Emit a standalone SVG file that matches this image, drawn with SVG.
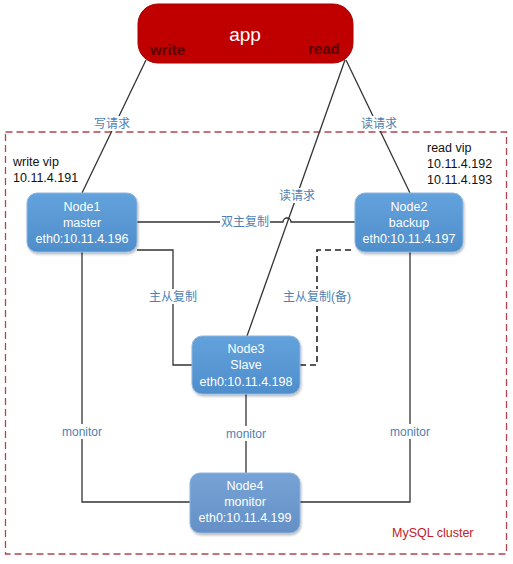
<svg xmlns="http://www.w3.org/2000/svg" width="513" height="564" viewBox="0 0 513 564">
<defs>
<linearGradient id="nodeGrad" x1="0" y1="0" x2="0" y2="1">
<stop offset="0" stop-color="#63a2dc"/>
<stop offset="1" stop-color="#4f8ecb"/>
</linearGradient>
<linearGradient id="node4Grad" x1="0" y1="0" x2="0" y2="1">
<stop offset="0" stop-color="#76a3d6"/>
<stop offset="1" stop-color="#6590c6"/>
</linearGradient>
<filter id="sh" x="-10%" y="-10%" width="125%" height="130%">
<feDropShadow dx="1" dy="2" stdDeviation="1.2" flood-color="#000" flood-opacity="0.25"/>
</filter>
</defs>
<style>
.node{fill:url(#nodeGrad);stroke:#8cb6e0;stroke-width:1;filter:url(#sh)}
.ntext{font-family:"Liberation Sans",Arial,sans-serif;font-size:12.5px;fill:#ffffff;text-anchor:middle}
.line{fill:none;stroke:#333333;stroke-width:1.3}
.dash{fill:none;stroke:#222222;stroke-width:1.6;stroke-dasharray:6,4}
.lbl{font-family:"Liberation Sans","Noto Sans CJK SC",sans-serif;font-size:12px;fill:#4f7fb2;text-anchor:middle}
.lblbg{fill:#ffffff}
.plain{font-family:"Liberation Sans",Arial,sans-serif;font-size:12.5px;fill:#111111}
</style>
<rect x="0" y="0" width="513" height="564" fill="#ffffff"/>
<rect x="5.5" y="132" width="501" height="422" fill="none" stroke="#b5444f" stroke-width="1.3" stroke-dasharray="7,4"/>
<text x="392" y="537" font-family="'Liberation Sans',Arial,sans-serif" font-size="12.5" fill="#c0202a">MySQL cluster</text>
<text class="plain" x="13" y="166">write vip</text>
<text class="plain" x="13" y="182">10.11.4.191</text>
<text class="plain" x="427" y="152">read vip</text>
<text class="plain" x="427" y="168">10.11.4.192</text>
<text class="plain" x="427" y="184">10.11.4.193</text>
<g id="connectors">
<path class="line" d="M146,60 L82,193"/>
<path class="line" d="M346,60 L410,193"/>
<path class="line" d="M345,60 L247,336"/>
<path class="line" d="M137,222 L283,222 A4,4 0 0 1 291,222 L355,222"/>
<path class="line" d="M137,250 L173,250 L173,365 L192,365"/>
<path class="dash" d="M300,365 L317,365 L317,250 L355,250"/>
<path class="line" d="M82,252 L82,502 L190,502"/>
<path class="line" d="M410,252 L410,502 L300,502"/>
<path class="line" d="M246,394 L246,473"/>
<rect class="lblbg" x="93" y="116" width="38" height="15"/>
<text class="lbl" x="112" y="128">写请求</text>
<rect class="lblbg" x="360" y="116" width="38" height="15"/>
<text class="lbl" x="379" y="128">读请求</text>
<rect class="lblbg" x="278" y="188" width="38" height="15"/>
<text class="lbl" x="297" y="200">读请求</text>
<rect class="lblbg" x="220" y="214" width="50" height="15"/>
<text class="lbl" x="245" y="226">双主复制</text>
<rect class="lblbg" x="148" y="289" width="50" height="15"/>
<text class="lbl" x="173" y="301">主从复制</text>
<rect class="lblbg" x="282" y="289" width="70" height="15"/>
<text class="lbl" x="317" y="301">主从复制(备)</text>
<rect class="lblbg" x="60" y="424" width="44" height="15"/>
<text class="lbl" x="82" y="436">monitor</text>
<rect class="lblbg" x="224" y="426" width="44" height="15"/>
<text class="lbl" x="246" y="438">monitor</text>
<rect class="lblbg" x="388" y="424" width="44" height="15"/>
<text class="lbl" x="410" y="436">monitor</text>
</g>
<g id="app">
<rect x="138" y="4" width="215" height="59" rx="20" fill="#c00000" stroke="#a30000" stroke-width="1"/>
<text x="245" y="41" font-family="'Liberation Sans',Arial,sans-serif" font-size="19" fill="#ffffff" text-anchor="middle">app</text>
<text x="150" y="55" font-family="'Liberation Sans',Arial,sans-serif" font-size="15" font-weight="bold" fill="#5a0000">write</text>
<text x="308" y="54" font-family="'Liberation Sans',Arial,sans-serif" font-size="15" font-weight="bold" fill="#5a0000">read</text>
</g>
<g id="node1">
<rect class="node" x="27" y="193" width="110" height="59" rx="10"/>
<text class="ntext" x="82" y="211">Node1</text>
<text class="ntext" x="82" y="227">master</text>
<text class="ntext" x="82" y="243">eth0:10.11.4.196</text>
</g>
<g id="node2">
<rect class="node" x="355" y="193" width="108" height="59" rx="10"/>
<text class="ntext" x="409" y="211">Node2</text>
<text class="ntext" x="409" y="227">backup</text>
<text class="ntext" x="409" y="243">eth0:10.11.4.197</text>
</g>
<g id="node3">
<rect class="node" x="192" y="336" width="108" height="58" rx="10"/>
<text class="ntext" x="246" y="353">Node3</text>
<text class="ntext" x="246" y="369">Slave</text>
<text class="ntext" x="246" y="386">eth0:10.11.4.198</text>
</g>
<g id="node4">
<rect class="node" x="190" y="473" width="110" height="60" rx="10" style="fill:url(#node4Grad)"/>
<text class="ntext" x="245" y="490">Node4</text>
<text class="ntext" x="245" y="506">monitor</text>
<text class="ntext" x="245" y="522">eth0:10.11.4.199</text>
</g>
</svg>
